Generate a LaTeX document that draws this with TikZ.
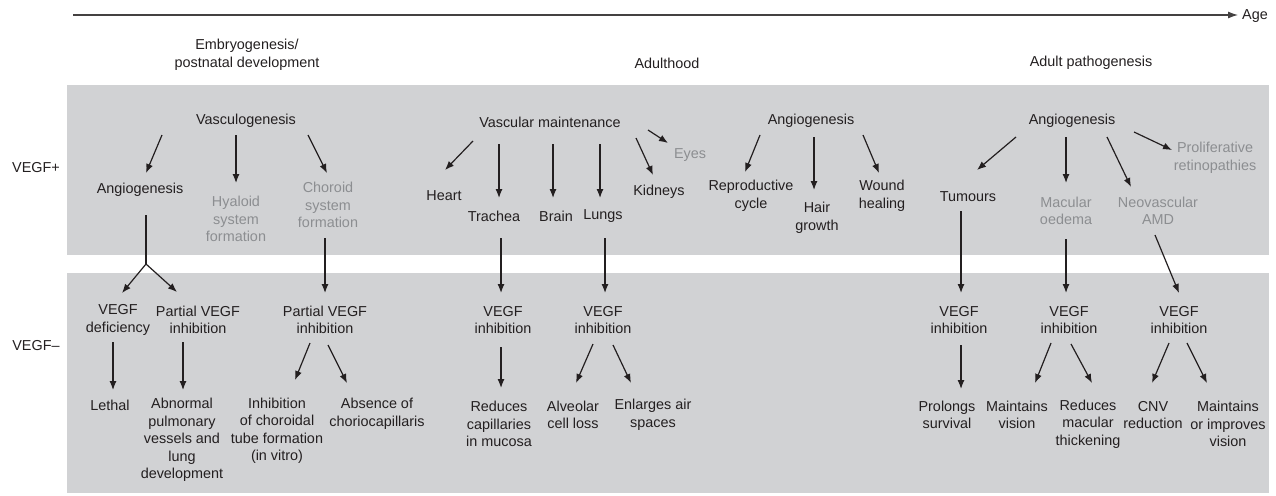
\documentclass[tikz,border=0pt]{standalone}
\usepackage{fontspec}
\setmainfont{Liberation Sans}
\usetikzlibrary{arrows.meta,calc}
\definecolor{bandgray}{RGB}{209,210,212}
\definecolor{txtgray}{RGB}{140,142,145}
\definecolor{ink}{RGB}{35,31,32}
\tikzset{
  lbl/.style={align=center, inner sep=0pt, text=ink, font=\fontsize{14.4}{17.5}\selectfont},
  faint/.style={lbl, text=txtgray},
  arr/.style={-{Latex[length=9pt,width=7pt]}, line width=1.2pt, draw=ink},
  band/.style={fill=bandgray, draw=none}
}
\begin{document}
\begin{tikzpicture}[x=1pt,y=-1pt]
  \useasboundingbox (0,0) rectangle (1276,495);
  % bands
  \fill[band] (67,85) rectangle (1269,255);
  \fill[band] (67,273) rectangle (1269,493);

  % time axis
  \coordinate (t0) at (73,15);
  \node[lbl, anchor=west] (age) at (1242,16) {Age};
  \draw[line width=1.1pt, draw=ink!85, -{Latex[length=10pt,width=7pt]}, shorten >=4pt] (t0) -- (t0 -| age.west);

  % stages
  \node[lbl] (embryo) at (247,55) {Embryogenesis/\\postnatal development};
  \node[lbl] (adult) at (667,63) {Adulthood};
  \node[lbl] (patho) at (1091,63) {Adult pathogenesis};

  \node[lbl] (vplus) at (36,168) {VEGF+};
  \node[lbl] (vminus) at (36,346) {VEGF--};

  % VEGF+ row
  \node[lbl] (vasc) at (246,121) {Vasculogenesis};
  \node[lbl] (angioA) at (140,190) {Angiogenesis};
  \node[faint] (hyal) at (236,219) {Hyaloid\\system\\formation};
  \node[faint] (chor) at (328,205) {Choroid\\system\\formation};

  \node[lbl] (vmaint) at (550,122) {Vascular maintenance};
  \node[lbl] (heart) at (444,196) {Heart};
  \node[lbl] (trach) at (494,216) {Trachea};
  \node[lbl] (brain) at (556,216) {Brain};
  \node[lbl] (lungs) at (603,216) {Lungs};
  \node[lbl] (kidney) at (659,192) {Kidneys};
  \node[faint] (eyes) at (690,155) {Eyes};

  \node[lbl] (angioB) at (811,121) {Angiogenesis};
  \node[lbl] (repro) at (751,196) {Reproductive\\cycle};
  \node[lbl] (hair) at (817,218) {Hair\\growth};
  \node[lbl] (wound) at (882,196) {Wound\\healing};

  \node[lbl] (angioC) at (1072,121) {Angiogenesis};
  \node[lbl] (tumour) at (968,197) {Tumours};
  \node[faint] (macula) at (1066,211) {Macular\\oedema};
  \node[faint] (neovasc) at (1158,211) {Neovascular\\AMD};
  \node[faint] (prolif) at (1215,158) {Proliferative\\retinopathies};

  % VEGF- row
  \node[lbl] (defic) at (118,320) {VEGF\\deficiency};
  \node[lbl] (partA) at (198,320) {Partial VEGF\\inhibition};
  \node[lbl] (partB) at (325,320) {Partial VEGF\\inhibition};
  \node[lbl] (inhA) at (503,320) {VEGF\\inhibition};
  \node[lbl] (inhB) at (603,320) {VEGF\\inhibition};
  \node[lbl] (inhC) at (959,320) {VEGF\\inhibition};
  \node[lbl] (inhD) at (1069,320) {VEGF\\inhibition};
  \node[lbl] (inhE) at (1179,320) {VEGF\\inhibition};

  \node[lbl] (lethal) at (110,405) {Lethal};
  \node[lbl] (abnorm) at (182,440) {Abnormal\\pulmonary\\vessels and\\lung\\development};
  \node[lbl] (tube) at (277,431) {Inhibition\\of choroidal\\tube formation\\(in vitro)};
  \node[lbl] (absent) at (377,414) {Absence of\\choriocapillaris};
  \node[lbl] (mucosa) at (499,424) {Reduces\\capillaries\\in mucosa};
  \node[lbl] (alveol) at (573,415) {Alveolar\\cell loss};
  \node[lbl] (airsp) at (653,415) {Enlarges air\\spaces};
  \node[lbl] (surv) at (947,415) {Prolongs\\survival};
  \node[lbl] (vision) at (1017,415) {Maintains\\vision};
  \node[lbl] (thick) at (1088,424) {Reduces\\macular\\thickening};
  \node[lbl] (cnv) at (1153,415) {CNV\\reduction};
  \node[lbl] (improv) at (1228,424) {Maintains\\or improves\\vision};

  % embryogenesis
  \draw[arr] ($(vasc)+(-84,14)$) -- ($(angioA)+(6,-17)$);
  \draw[arr] ($(vasc)+(-10,14)$) -- ($(hyal)+(0,-36)$);
  \draw[arr] ($(vasc)+(62,14)$) -- ($(chor)+(-1,-32)$);
  \coordinate (fork) at (146,264);
  \draw[line width=1.2pt, draw=ink] ($(angioA)+(6,25)$) -- (fork);
  \draw[arr] (fork) -- ($(defic)+(4,-27)$);
  \draw[arr] (fork) -- ($(partA)+(-21,-28)$);
  \draw[arr] ($(chor)+(-3,33)$) -- ($(partB)+(0,-27)$);
  \draw[arr] ($(defic)+(-5,22)$) -- ($(lethal)+(3,-15)$);
  \draw[arr] ($(partA)+(-15,22)$) -- ($(abnorm)+(1,-50)$);
  \draw[arr] ($(partB)+(-15,23)$) -- ($(tube)+(18,-51)$);
  \draw[arr] ($(partB)+(3,25)$) -- ($(absent)+(-30,-31)$);

  % adulthood
  \draw[arr] ($(vmaint)+(-77,19)$) -- ($(heart)+(1,-26)$);
  \draw[arr] ($(vmaint)+(-51,22)$) -- ($(trach)+(5,-18)$);
  \draw[arr] ($(vmaint)+(3,22)$) -- ($(brain)+(-3,-18)$);
  \draw[arr] ($(vmaint)+(50,22)$) -- ($(lungs)+(-3,-18)$);
  \draw[arr] ($(vmaint)+(86,16)$) -- ($(kidney)+(-6,-17)$);
  \draw[arr] ($(vmaint)+(98,8)$) -- ($(eyes)+(-22,-12)$);
  \draw[arr] ($(trach)+(7,22)$) -- ($(inhA)+(-2,-27)$);
  \draw[arr] ($(lungs)+(2,22)$) -- ($(inhB)+(2,-27)$);
  \draw[arr] ($(inhA)+(-2,27)$) -- ($(mucosa)+(2,-36)$);
  \draw[arr] ($(inhB)+(-10,24)$) -- ($(alveol)+(3,-32)$);
  \draw[arr] ($(inhB)+(10,25)$) -- ($(airsp)+(-22,-32)$);

  \draw[arr] ($(angioB)+(-51,14)$) -- ($(repro)+(-6,-24)$);
  \draw[arr] ($(angioB)+(3,16)$) -- ($(hair)+(-3,-28)$);
  \draw[arr] ($(angioB)+(52,14)$) -- ($(wound)+(-3,-23)$);

  % pathogenesis
  \draw[arr] ($(angioC)+(-56,16)$) -- ($(tumour)+(9,-27)$);
  \draw[arr] ($(angioC)+(-6,16)$) -- ($(macula)+(0,-28)$);
  \draw[arr] ($(angioC)+(35,16)$) -- ($(neovasc)+(-27,-24)$);
  \draw[arr] ($(angioC)+(62,11)$) -- ($(prolif)+(-43,-8)$);
  \draw[arr] ($(tumour)+(-7,14)$) -- ($(inhC)+(2,-27)$);
  \draw[arr] ($(macula)+(0,28)$) -- ($(inhD)+(-3,-27)$);
  \draw[arr] ($(neovasc)+(-3,24)$) -- ($(inhE)+(0,-27)$);
  \draw[arr] ($(inhC)+(2,25)$) -- ($(surv)+(14,-26)$);
  \draw[arr] ($(inhD)+(-18,23)$) -- ($(vision)+(18,-32)$);
  \draw[arr] ($(inhD)+(2,24)$) -- ($(thick)+(4,-41)$);
  \draw[arr] ($(inhE)+(-10,23)$) -- ($(cnv)+(-1,-32)$);
  \draw[arr] ($(inhE)+(8,23)$) -- ($(improv)+(-21,-41)$);
\end{tikzpicture}
\end{document}
